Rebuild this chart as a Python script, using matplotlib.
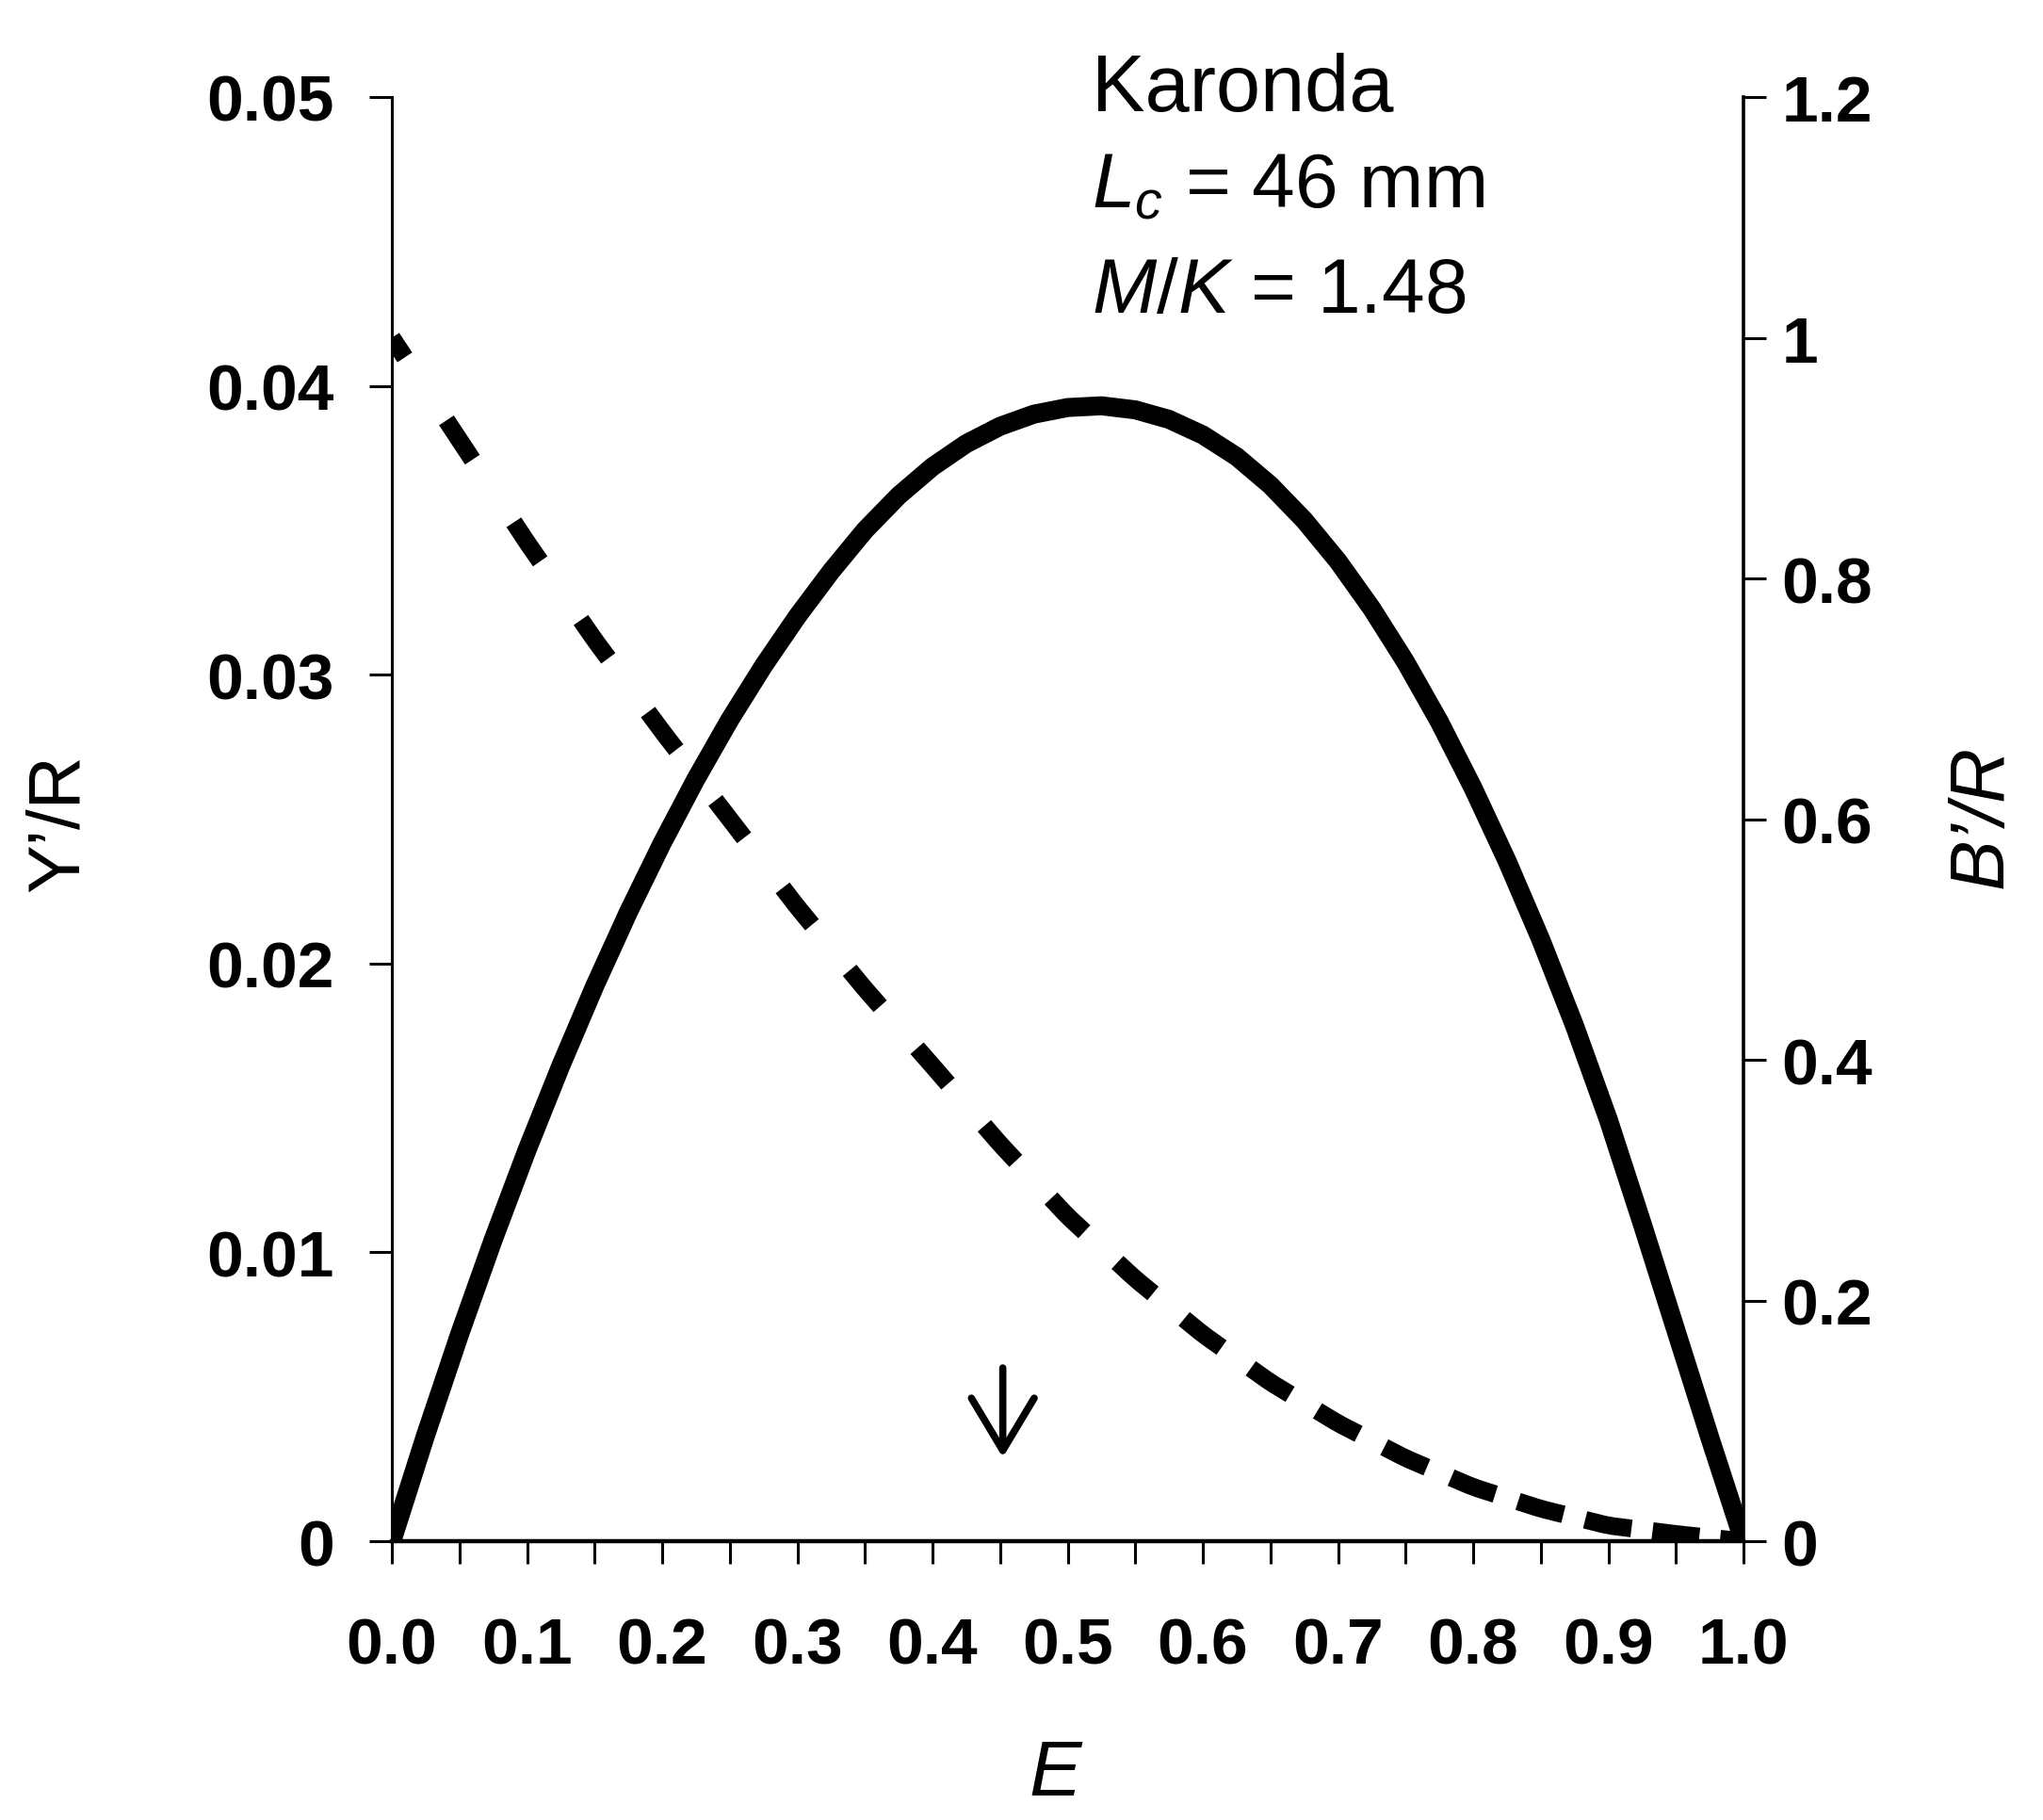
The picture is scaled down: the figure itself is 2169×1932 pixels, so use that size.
import numpy as np
import matplotlib
matplotlib.use("Agg")
import matplotlib.pyplot as plt
import matplotlib.font_manager as fm
from matplotlib.ticker import MultipleLocator, FixedLocator

# ---------------- data ----------------
E_solid = [0.000, 0.025, 0.050, 0.075, 0.100, 0.125, 0.150, 0.175, 0.200, 0.225,
           0.250, 0.275, 0.300, 0.325, 0.350, 0.375, 0.400, 0.425, 0.450, 0.475,
           0.500, 0.525, 0.550, 0.575, 0.600, 0.625, 0.650, 0.675, 0.700, 0.725,
           0.750, 0.775, 0.800, 0.825, 0.850, 0.875, 0.900, 0.925, 0.950, 0.975, 1.000]
Y_over_R = [0.00000, 0.00367, 0.00715, 0.01044, 0.01354, 0.01646, 0.01921, 0.02178, 0.02417, 0.02639,
            0.02844, 0.03031, 0.03202, 0.03358, 0.03500, 0.03620, 0.03720, 0.03800, 0.03860, 0.03902,
            0.03925, 0.03931, 0.03917, 0.03884, 0.03830, 0.03755, 0.03656, 0.03535, 0.03393, 0.03229,
            0.03044, 0.02837, 0.02607, 0.02356, 0.02083, 0.01785, 0.01460, 0.01100, 0.00730, 0.00360, 0.00000]

E_dash = [0.00, 0.05, 0.10, 0.15, 0.20, 0.25, 0.30, 0.35, 0.40, 0.45, 0.50,
          0.55, 0.60, 0.65, 0.70, 0.75, 0.80, 0.85, 0.90, 0.95, 1.00]
B_over_R = [1.000, 0.915, 0.830, 0.749, 0.673, 0.600, 0.527, 0.459, 0.395, 0.330, 0.270,
            0.218, 0.172, 0.132, 0.098, 0.069, 0.045, 0.027, 0.013, 0.006, 0.000]

arrow_E = 0.452
arrow_y = [0.0060, 0.0029]

x_ticks = [0.0, 0.1, 0.2, 0.3, 0.4, 0.5, 0.6, 0.7, 0.8, 0.9, 1.0]
x_ticklabels = ["0.0", "0.1", "0.2", "0.3", "0.4", "0.5", "0.6", "0.7", "0.8", "0.9", "1.0"]
yl_ticks = [0, 0.01, 0.02, 0.03, 0.04, 0.05]
yl_ticklabels = ["0", "0.01", "0.02", "0.03", "0.04", "0.05"]
yr_ticks = [0, 0.2, 0.4, 0.6, 0.8, 1.0, 1.2]
yr_ticklabels = ["0", "0.2", "0.4", "0.6", "0.8", "1", "1.2"]

# ---------------- fonts ----------------
plt.rcParams["font.family"] = ["Liberation Sans", "DejaVu Sans"]
plt.rcParams["mathtext.fontset"] = "custom"
plt.rcParams["mathtext.rm"] = "Liberation Sans"
plt.rcParams["mathtext.it"] = "Liberation Sans:italic"

tick_fp = fm.FontProperties(family="Liberation Sans", weight="bold", size=50)

# ---------------- figure ----------------
fig = plt.figure(figsize=(21.69, 19.33), dpi=100)
ax = fig.add_axes([0.1918, 0.1531, 0.6616, 0.7931])
ax2 = ax.twinx()

ax.set_xlim(0, 1)
ax.set_ylim(0, 0.05)
ax2.set_ylim(0, 1.2)

# solid curve Y'/R
ax.plot(E_solid, Y_over_R, color="black", lw=14.5, solid_capstyle="butt",
        solid_joinstyle="round", zorder=3)

# dashed curve B'/R : one dash centred on every data point
E_arr = np.array(E_dash)
B_arr = np.array(B_over_R)
px_per_E = 1435.0
px_per_B = 1533.0 / 1.2
slope_px = np.gradient(B_arr, E_arr) * px_per_B / px_per_E
half_len_px = 25.0
for Ek, sk in zip(E_arr, slope_px):
    d = half_len_px / px_per_E / np.sqrt(1.0 + sk ** 2)
    a, b = max(0.0, Ek - d), min(1.0, Ek + d)
    es = np.linspace(a, b, 6)
    ax2.plot(es, np.interp(es, E_arr, B_arr), color="black", lw=13.5,
             solid_capstyle="butt", zorder=3)

# arrow
ax.annotate("", xy=(arrow_E, arrow_y[1]), xytext=(arrow_E, arrow_y[0]),
            arrowprops=dict(arrowstyle="->,head_length=40,head_width=24",
                            mutation_scale=1, lw=5.5, color="black",
                            shrinkA=0, shrinkB=0))

# spines
for s in ["top", "right"]:
    ax.spines[s].set_visible(False)
for s in ["top", "left", "bottom"]:
    ax2.spines[s].set_visible(False)
ax.spines["left"].set_linewidth(2.2)
ax.spines["bottom"].set_linewidth(3.2)
ax2.spines["right"].set_linewidth(2.6)

# ticks
ax.xaxis.set_major_locator(FixedLocator(x_ticks))
ax.xaxis.set_minor_locator(MultipleLocator(0.05))
ax.set_xticklabels(x_ticklabels)
ax.set_yticks(yl_ticks)
ax.set_yticklabels(yl_ticklabels)
ax2.set_yticks(yr_ticks)
ax2.set_yticklabels(yr_ticklabels)

ax.tick_params(axis="x", which="both", direction="out", length=17, width=2.2, pad=40)
ax.tick_params(axis="y", which="both", direction="out", length=17, width=2.2, pad=27)
ax2.tick_params(axis="y", which="both", direction="out", length=17, width=2.2, pad=12)
for lab in ax.get_xticklabels() + ax.get_yticklabels() + ax2.get_yticklabels():
    lab.set_fontproperties(tick_fp)

# axis labels
fig.text(0.0286, 0.5478, "Y\u2019/R", rotation=90, ha="center", va="center", fontsize=56)
fig.text(0.9705, 0.5515, "B\u2019/R", rotation=90, ha="center", va="center", fontsize=58,
         style="italic")
fig.text(0.5164, 0.0253, "E", ha="center", va="center", fontsize=60, style="italic")

# annotation text
ax.text(0.518, 0.991, "Karonda", transform=ax.transAxes, fontsize=61, va="baseline")
ax.text(0.518, 0.924, r"$L_{c}$ = 46 mm", transform=ax.transAxes, fontsize=59, va="baseline")
ax.text(0.518, 0.851, r"$M/K$ = 1.48", transform=ax.transAxes, fontsize=59, va="baseline")

fig.savefig("out.png", dpi=100, facecolor="white")
